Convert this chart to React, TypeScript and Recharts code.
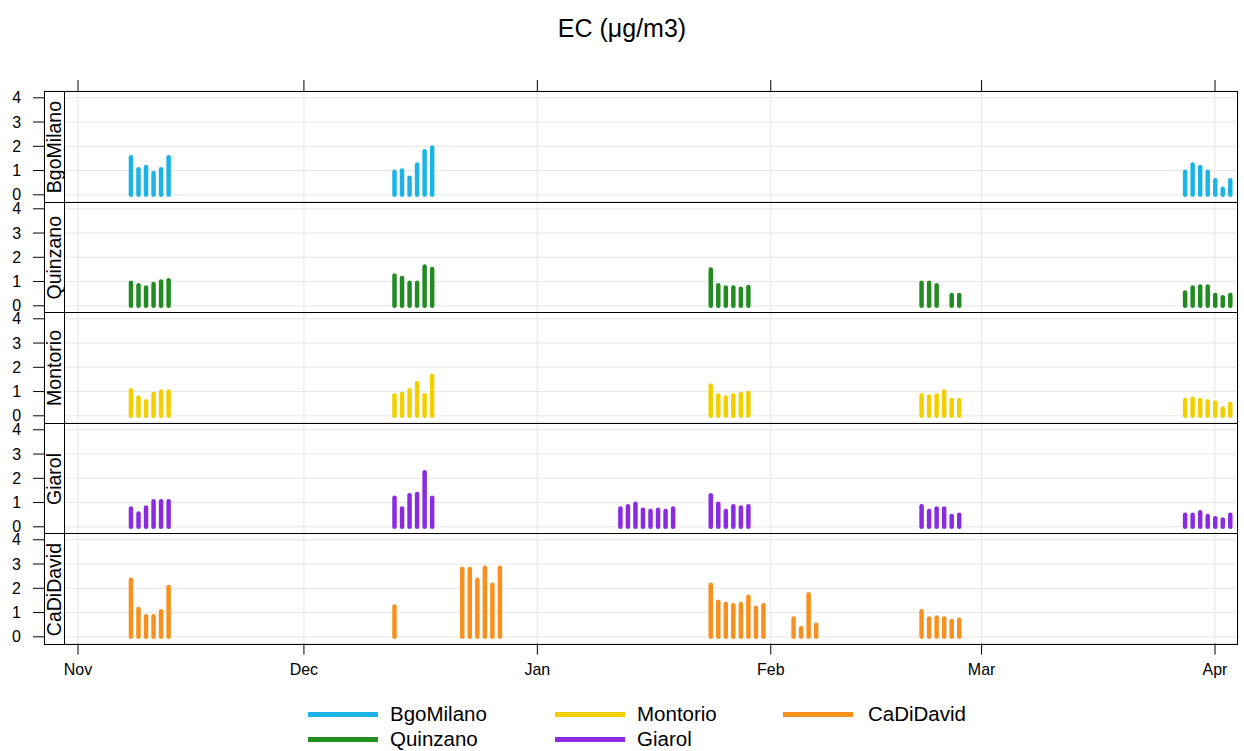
import React from 'react'
import { BarChart, Bar, XAxis, YAxis, CartesianGrid } from 'recharts'

// days are counted from 1 Nov
const monthTicks = [0, 30, 61, 92, 120, 151]
const monthLabels = ['Nov', 'Dec', 'Jan', 'Feb', 'Mar', 'Apr']
const yTicks = [0, 1, 2, 3, 4]

const bgoMilanoDays = [7, 8, 9, 10, 11, 12, 42, 43, 44, 45, 46, 47, 147, 148, 149, 150, 151, 152, 153]
const bgoMilanoEC = [1.55, 1.05, 1.15, 0.9, 1.05, 1.55, 0.95, 1.0, 0.7, 1.25, 1.8, 1.95, 0.95, 1.25, 1.15, 0.95, 0.6, 0.25, 0.6]

const quinzanoDays = [7, 8, 9, 10, 11, 12, 42, 43, 44, 45, 46, 47, 84, 85, 86, 87, 88, 89, 112, 113, 114, 116, 117, 147, 148, 149, 150, 151, 152, 153]
const quinzanoEC = [0.95, 0.85, 0.75, 0.9, 1.0, 1.05, 1.25, 1.15, 0.95, 0.95, 1.62, 1.52, 1.5, 0.85, 0.75, 0.75, 0.7, 0.78, 0.95, 0.95, 0.85, 0.45, 0.45, 0.55, 0.75, 0.8, 0.8, 0.45, 0.35, 0.45]

const montorioDays = [7, 8, 9, 10, 11, 12, 42, 43, 44, 45, 46, 47, 84, 85, 86, 87, 88, 89, 112, 113, 114, 115, 116, 117, 147, 148, 149, 150, 151, 152, 153]
const montorioEC = [1.05, 0.75, 0.6, 0.9, 1.0, 1.0, 0.85, 0.9, 1.05, 1.35, 0.85, 1.65, 1.25, 0.85, 0.75, 0.85, 0.9, 0.95, 0.85, 0.8, 0.85, 1.0, 0.65, 0.65, 0.65, 0.7, 0.65, 0.6, 0.55, 0.3, 0.5]

const giarolDays = [7, 8, 9, 10, 11, 12, 42, 43, 44, 45, 46, 47, 72, 73, 74, 75, 76, 77, 78, 79, 84, 85, 86, 87, 88, 89, 112, 113, 114, 115, 116, 117, 147, 148, 149, 150, 151, 152, 153]
const giarolEC = [0.75, 0.55, 0.8, 1.05, 1.05, 1.05, 1.2, 0.75, 1.3, 1.35, 2.25, 1.2, 0.75, 0.85, 0.95, 0.7, 0.65, 0.7, 0.65, 0.75, 1.3, 0.95, 0.65, 0.85, 0.8, 0.85, 0.85, 0.65, 0.75, 0.75, 0.45, 0.5, 0.5, 0.5, 0.6, 0.45, 0.35, 0.3, 0.5]

const caDiDavidDays = [7, 8, 9, 10, 11, 12, 42, 51, 52, 53, 54, 55, 56, 84, 85, 86, 87, 88, 89, 90, 91, 95, 96, 97, 98, 112, 113, 114, 115, 116, 117]
const caDiDavidEC = [2.35, 1.15, 0.85, 0.85, 1.05, 2.05, 1.25, 2.8, 2.8, 2.35, 2.85, 2.15, 2.85, 2.15, 1.45, 1.35, 1.3, 1.35, 1.65, 1.2, 1.3, 0.75, 0.35, 1.75, 0.5, 1.05, 0.75, 0.8, 0.75, 0.65, 0.7]

const sites = [
  { name: 'BgoMilano', days: bgoMilanoDays, values: bgoMilanoEC, color: '#1cb4e6' },
  { name: 'Quinzano', days: quinzanoDays, values: quinzanoEC, color: '#228b22' },
  { name: 'Montorio', days: montorioDays, values: montorioEC, color: '#f2d000' },
  { name: 'Giarol', days: giarolDays, values: giarolEC, color: '#8a2be2' },
  { name: 'CaDiDavid', days: caDiDavidDays, values: caDiDavidEC, color: '#f7901e' },
]

const FONT = '"Liberation Sans", Arial, sans-serif'
const PANEL_TOP = 91
const PANEL_H = 110.6
const PLOT_LEFT = 44
const PLOT_RIGHT = 1238
const X_DOMAIN: [number, number] = [-4.515, 154.05]
const Y_DOMAIN: [number, number] = [-0.28, 4.28]

const Stick = (props: any) => {
  const { x, y, width, height, fill } = props
  if (height == null || isNaN(height)) return null
  const cx = x + width / 2
  return (
    <line x1={cx} x2={cx} y1={y} y2={y + height} stroke={fill} strokeWidth={4.5} strokeLinecap="round" />
  )
}

function Panel({ site, index }: { site: (typeof sites)[number]; index: number }) {
  const data = site.days.map((d, i) => ({ day: d, ec: site.values[i] }))
  const first = index === 0
  const last = index === sites.length - 1
  const topPad = first ? 11 : 0
  const bottomPad = last ? 45 : 0
  const top = PANEL_TOP + index * PANEL_H
  return (
    <>
      <div style={{ position: 'absolute', left: 0, top: top - topPad }}>
        <BarChart
          width={1244}
          height={PANEL_H + topPad + bottomPad}
          data={data}
          margin={{ top: 0, right: 1244 - PLOT_RIGHT, bottom: 0, left: 0 }}
        >
          <CartesianGrid stroke="#e6e6e6" />
          <XAxis
            dataKey="day"
            type="number"
            domain={X_DOMAIN}
            allowDataOverflow
            ticks={monthTicks}
            interval={0}
            orientation={first ? 'top' : 'bottom'}
            hide={!first && !last}
            height={first ? 11 : 45}
            tick={{ fontSize: 16, fill: '#000', fontFamily: FONT }}
            tickFormatter={(v: number) => (last ? monthLabels[monthTicks.indexOf(v)] : '')}
            tickSize={11}
            tickMargin={9}
            tickLine={{ stroke: '#000' }}
            axisLine={false}
          />
          <YAxis
            type="number"
            domain={Y_DOMAIN}
            allowDataOverflow
            ticks={yTicks}
            interval={0}
            width={PLOT_LEFT}
            tickSize={11}
            tickMargin={12}
            tick={{ fontSize: 16, fill: '#000', fontFamily: FONT }}
            tickLine={{ stroke: '#000' }}
            axisLine={false}
          />
          <Bar dataKey="ec" fill={site.color} barSize={4} shape={<Stick />} isAnimationActive={false} />
        </BarChart>
      </div>
      <div
        style={{
          position: 'absolute',
          left: PLOT_LEFT,
          top,
          width: PLOT_RIGHT - PLOT_LEFT,
          height: PANEL_H + 1,
          border: '1px solid #000',
          boxSizing: 'border-box',
          pointerEvents: 'none',
        }}
      />
      <div
        style={{
          position: 'absolute',
          left: PLOT_LEFT,
          top,
          width: 21,
          height: PANEL_H + 1,
          border: '1px solid #000',
          boxSizing: 'border-box',
          background: '#fff',
          display: 'flex',
          alignItems: 'center',
          justifyContent: 'center',
          overflow: 'hidden',
        }}
      >
        <span
          style={{
            writingMode: 'vertical-rl',
            transform: 'rotate(180deg)',
            fontFamily: FONT,
            fontSize: 19.5,
            lineHeight: '19px',
            whiteSpace: 'nowrap',
          }}
        >
          {site.name}
        </span>
      </div>
    </>
  )
}

const legendCols = [
  { lineX: 308, textX: 390, items: [0, 1] },
  { lineX: 555, textX: 637, items: [2, 3] },
  { lineX: 783, textX: 868, items: [4] },
]
const legendRows = [714, 739]

export default function App() {
  return (
    <div
      style={{
        position: 'absolute',
        left: 0,
        top: 0,
        width: 1244,
        height: 751,
        background: '#fff',
        fontFamily: FONT,
        overflow: 'hidden',
      }}
    >
      <div
        style={{
          position: 'absolute',
          left: 0,
          width: 1244,
          top: 13,
          textAlign: 'center',
          fontSize: 25,
          lineHeight: '30px',
        }}
      >
        EC (μg/m3)
      </div>
      {sites.map((s, i) => (
        <Panel key={s.name} site={s} index={i} />
      ))}
      {legendCols.map((col) =>
        col.items.map((si, r) => (
          <React.Fragment key={sites[si].name}>
            <div
              style={{
                position: 'absolute',
                left: col.lineX,
                top: legendRows[r] - 2.5,
                width: 70,
                height: 5,
                background: sites[si].color,
              }}
            />
            <div
              style={{
                position: 'absolute',
                left: col.textX,
                top: legendRows[r] - 13,
                fontSize: 20.5,
                lineHeight: '26px',
                whiteSpace: 'nowrap',
              }}
            >
              {sites[si].name}
            </div>
          </React.Fragment>
        ))
      )}
    </div>
  )
}
